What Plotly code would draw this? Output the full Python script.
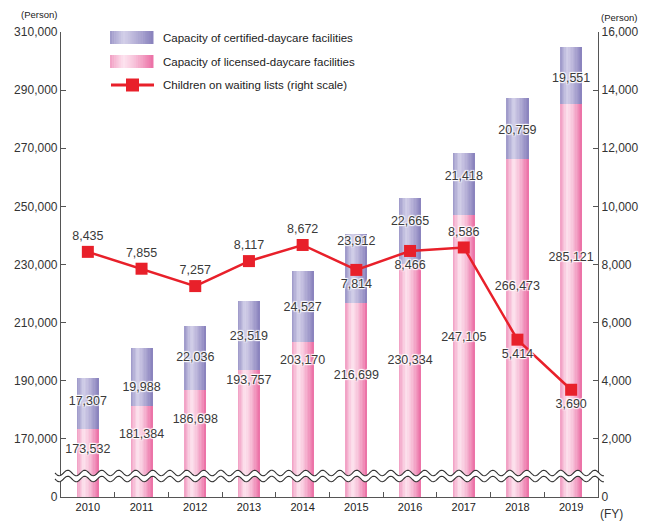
import numpy as np
import plotly.graph_objects as go

# ---------------- data ----------------
years = ["2010", "2011", "2012", "2013", "2014", "2015", "2016", "2017", "2018", "2019"]
licensed = [173532, 181384, 186698, 193757, 203170, 216699, 230334, 247105, 266473, 285121]
certified = [17307, 19988, 22036, 23519, 24527, 23912, 22665, 21418, 20759, 19551]
waiting = [8435, 7855, 7257, 8117, 8672, 7814, 8466, 8586, 5414, 3690]

left_tickvals = [150000, 170000, 190000, 210000, 230000, 250000, 270000, 290000, 310000]
left_ticktext = ["0", "170,000", "190,000", "210,000", "230,000", "250,000", "270,000", "290,000", "310,000"]

# label anchor positions (left-axis units), placed as in the original
licensed_label_y = [166200, 171400, 176500, 190000, 196900, 191700, 196900, 204800, 222400, 232400]
certified_label_y = [182700, 187500, 197900, 205200, 215200, 237700, 244600, 260300, 276100, 294000]
waiting_label_pos = ["top center", "top center", "top center", "top center", "top center",
                     "bottom center", "bottom center", "top center", "bottom center", "bottom center"]

AXIS_BASE = 150000  # value drawn at the "0" of the broken axis

# ---------------- layout geometry ----------------
W, H = 647, 522
ML, MR, MT, MB = 61, 49, 32, 25
PW, PH = W - ML - MR, H - MT - MB


def px(x):
    return (x - ML) / PW


def py(y):
    return (H - MB - y) / PH


FONT = "Liberation Sans, Arial, sans-serif"
TXT = "#3a3a3a"
HALO = "1px 1px 1px #fff, -1px -1px 1px #fff, 1px -1px 1px #fff, -1px 1px 1px #fff"


def grad(stops, t):
    ts = [s[0] for s in stops]
    cols = [tuple(int(s[1][i:i + 2], 16) for i in (1, 3, 5)) for s in stops]
    rgb = [np.interp(t, ts, [c[k] for c in cols]) for k in range(3)]
    return "rgb(%d,%d,%d)" % tuple(int(round(v)) for v in rgb)


PINK = [(0.0, "#f2a3c6"), (0.3, "#fde4ef"), (0.55, "#f8c6dc"), (1.0, "#ec74a8")]
PURPLE = [(0.0, "#a19ccb"), (0.3, "#d3d0e9"), (0.55, "#bcb7db"), (1.0, "#8b84be")]

fig = go.Figure()

BW = 0.41
N = 16
dw = BW / N
lic_h = [v - AXIS_BASE for v in licensed]
for i in range(N):
    t = i / (N - 1)
    fig.add_trace(go.Bar(x=years, y=lic_h, base=[AXIS_BASE] * len(years),
                         width=BW - i * dw, offset=-BW / 2 + i * dw,
                         marker=dict(color=grad(PINK, t), line=dict(width=0)),
                         showlegend=False, hoverinfo="skip"))
for i in range(N):
    t = i / (N - 1)
    fig.add_trace(go.Bar(x=years, y=certified, base=licensed,
                         width=BW - i * dw, offset=-BW / 2 + i * dw,
                         marker=dict(color=grad(PURPLE, t), line=dict(width=0)),
                         showlegend=False, hoverinfo="skip"))

LBL = 12.5
# bar value labels
fig.add_trace(go.Scatter(x=years, y=licensed_label_y, mode="text",
                         text=[f"{v:,}" for v in licensed],
                         textfont=dict(family=FONT, size=LBL, color=TXT, shadow=HALO),
                         showlegend=False, hoverinfo="skip"))
fig.add_trace(go.Scatter(x=years, y=certified_label_y, mode="text",
                         text=[f"{v:,}" for v in certified],
                         textfont=dict(family=FONT, size=LBL, color=TXT, shadow=HALO),
                         showlegend=False, hoverinfo="skip"))

# waiting-list line
fig.add_trace(go.Scatter(x=years, y=waiting, yaxis="y2", mode="lines+markers+text",
                         line=dict(color="#e8202a", width=2.5),
                         marker=dict(symbol="square", size=12, color="#e8202a"),
                         text=[f"{v:,}" for v in waiting], textposition=waiting_label_pos,
                         textfont=dict(family=FONT, size=LBL, color=TXT, shadow=HALO),
                         showlegend=False, hoverinfo="skip"))

shapes = []
annotations = []

# axis break (wavy lines)
xs = np.linspace(55, 604, 400)
lam = 17.0
amp = 2.8
up = 473 + amp * np.sin(2 * np.pi * (xs - 55) / lam)
lo = 479 + amp * np.sin(2 * np.pi * (xs - 55) / lam)
fill_path = "M " + " L ".join(f"{px(x):.5f},{py(y):.5f}" for x, y in zip(xs, up))
fill_path += " L " + " L ".join(f"{px(x):.5f},{py(y):.5f}" for x, y in zip(xs[::-1], lo[::-1])) + " Z"
shapes.append(dict(type="path", path=fill_path, xref="paper", yref="paper",
                   fillcolor="white", line=dict(width=0), layer="above"))
for arr in (up, lo):
    p = "M " + " L ".join(f"{px(x):.5f},{py(y):.5f}" for x, y in zip(xs, arr))
    shapes.append(dict(type="path", path=p, xref="paper", yref="paper",
                       line=dict(color="#333", width=1.1), layer="above"))

# custom legend
def swatch(stops, x0, x1, y0, y1, n=20):
    w = (x1 - x0) / n
    for i in range(n):
        t = i / (n - 1)
        shapes.append(dict(type="rect", xref="paper", yref="paper",
                           x0=px(x0 + i * w), x1=px(x0 + (i + 1) * w + 0.5),
                           y0=py(y1), y1=py(y0), fillcolor=grad(stops, t),
                           line=dict(width=0), layer="above"))

swatch(PURPLE, 110, 153, 31, 44)
swatch(PINK, 110, 153, 55, 68)
shapes.append(dict(type="line", xref="paper", yref="paper", x0=px(111), x1=px(154),
                   y0=py(85), y1=py(85), line=dict(color="#e8202a", width=3), layer="above"))
shapes.append(dict(type="rect", xref="paper", yref="paper", x0=px(126), x1=px(139),
                   y0=py(91.5), y1=py(78.5), fillcolor="#e8202a", line=dict(width=0), layer="above"))
legend_texts = ["Capacity of certified-daycare facilities",
                "Capacity of licensed-daycare facilities",
                "Children on waiting lists (right scale)"]
for txt, yy in zip(legend_texts, [38, 62, 85]):
    annotations.append(dict(text=txt, x=px(161), y=py(yy), xref="paper", yref="paper",
                            xanchor="left", yanchor="middle", showarrow=False,
                            font=dict(family=FONT, size=11.5, color="#222")))

annotations.append(dict(text="(Person)", x=px(39), y=py(15), xref="paper", yref="paper",
                        xanchor="center", yanchor="middle", showarrow=False,
                        font=dict(family=FONT, size=9.5, color="#222")))
annotations.append(dict(text="(Person)", x=px(619), y=py(17), xref="paper", yref="paper",
                        xanchor="center", yanchor="middle", showarrow=False,
                        font=dict(family=FONT, size=9.5, color="#222")))
annotations.append(dict(text="(FY)", x=px(611), y=py(514), xref="paper", yref="paper",
                        xanchor="center", yanchor="middle", showarrow=False,
                        font=dict(family=FONT, size=12, color="#333")))

AX = "#555"
fig.update_layout(
    width=W, height=H,
    margin=dict(l=ML, r=MR, t=MT, b=MB),
    paper_bgcolor="white", plot_bgcolor="white",
    barmode="overlay", bargap=0,
    font=dict(family=FONT, color="#333"),
    shapes=shapes, annotations=annotations,
    xaxis=dict(type="category", range=[-0.5, 9.5], showline=True, linecolor=AX, linewidth=1.2,
               ticks="inside", tickson="boundaries", ticklen=5, tickcolor=AX,
               showgrid=False, zeroline=False, automargin=False,
               tickfont=dict(size=11, color="#222")),
    yaxis=dict(range=[AXIS_BASE, 310000], tickvals=left_tickvals, ticktext=left_ticktext,
               showline=True, linecolor=AX, linewidth=1.2, ticks="inside", ticklen=5,
               tickcolor=AX, showgrid=False, zeroline=False, automargin=False,
               tickfont=dict(size=12, color="#333")),
    yaxis2=dict(range=[0, 16000], dtick=2000, tickformat=",", overlaying="y", side="right",
                showline=True, linecolor=AX, linewidth=1.2, ticks="inside", ticklen=5,
                tickcolor=AX, showgrid=False, zeroline=False, automargin=False,
                tickfont=dict(size=12, color="#333")),
)

fig.write_html("out.html", config={"displayModeBar": False},
               post_script="document.body.style.margin='0px';document.body.style.overflow='hidden';")
